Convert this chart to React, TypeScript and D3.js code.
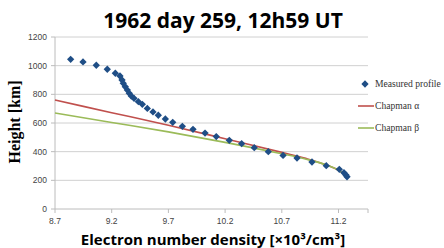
import * as d3 from "d3";

// measured profile: density [x10^3/cm^3], height [km]
const measDensity = [8.838, 8.947, 9.064, 9.161, 9.232, 9.273, 9.291, 9.302, 9.32, 9.338, 9.355, 9.373, 9.397, 9.435, 9.47, 9.514, 9.564, 9.611, 9.673, 9.738, 9.823, 9.917, 10.023, 10.122, 10.237, 10.346, 10.457, 10.581, 10.711, 10.834, 10.966, 11.092, 11.207, 11.248, 11.266, 11.275];
const measHeight = [1044, 1026, 1003, 975, 947, 928, 900, 877, 853, 830, 807, 788, 772, 749, 730, 702, 677, 654, 628, 605, 577, 556, 530, 505, 479, 456, 428, 400, 374, 356, 328, 302, 277, 253, 237, 225];

// fitted curves
const alphaDensity = [8.7, 9.2, 9.7, 10.2, 10.7, 10.9, 11.1, 11.2, 11.28];
const alphaHeight = [760, 672, 584, 490, 395, 355, 305, 270, 222];
const betaDensity = [8.7, 9.2, 9.7, 10.2, 10.7, 10.9, 11.1, 11.2, 11.28];
const betaHeight = [670, 604, 538, 465, 385, 350, 305, 270, 222];

const xTicks = [8.7, 9.2, 9.7, 10.2, 10.7, 11.2];
const yTicks = [0, 200, 400, 600, 800, 1000, 1200];

const W = 444;
const H = 248;
const plot = { left: 55, right: 368, top: 37, bottom: 209 };

export default function App() {
  const x = d3.scaleLinear().domain([8.7, 11.46]).range([plot.left, plot.right]);
  const y = d3.scaleLinear().domain([0, 1200]).range([plot.bottom, plot.top]);

  const line = d3
    .line<[number, number]>()
    .x((d) => x(d[0]))
    .y((d) => y(d[1]))
    .curve(d3.curveMonotoneX);

  const alpha = alphaDensity.map((d, i) => [d, alphaHeight[i]] as [number, number]);
  const beta = betaDensity.map((d, i) => [d, betaHeight[i]] as [number, number]);
  const diamond = d3.symbol().type(d3.symbolDiamond2).size(34)();

  const tickFont = "'Liberation Sans', Arial, sans-serif";
  const serif = "'Liberation Serif', serif";

  return (
    <svg
      width={W}
      height={H}
      style={{ position: "absolute", left: 0, top: 0, background: "#fff" }}
    >
      <text
        x={223}
        y={28}
        textAnchor="middle"
        fontFamily="'Open Sans', sans-serif"
        fontWeight="bold"
        fontSize={21}
        fill="#000"
      >
        1962 day 259, 12h59 UT
      </text>

      {yTicks.map((t) => (
        <g key={t}>
          {t > 0 && (
            <line x1={plot.left} x2={plot.right} y1={y(t)} y2={y(t)} stroke="#d0d0d0" strokeWidth={1} />
          )}
          <line x1={plot.left - 4} x2={plot.left} y1={y(t)} y2={y(t)} stroke="#bcbcbc" />
          <text
            x={plot.left - 8}
            y={y(t) + 3}
            textAnchor="end"
            fontFamily={tickFont}
            fontSize={8.5}
            fill="#444"
          >
            {t}
          </text>
        </g>
      ))}

      <line x1={plot.left} x2={plot.left} y1={plot.top} y2={plot.bottom} stroke="#bcbcbc" />
      <line x1={plot.left} x2={plot.right} y1={plot.bottom} y2={plot.bottom} stroke="#bcbcbc" />

      {xTicks.map((t) => (
        <g key={t}>
          <line x1={x(t)} x2={x(t)} y1={plot.bottom} y2={plot.bottom + 4} stroke="#bcbcbc" />
          <text
            x={x(t)}
            y={plot.bottom + 15}
            textAnchor="middle"
            fontFamily={tickFont}
            fontSize={8.5}
            fill="#444"
          >
            {t.toFixed(1)}
          </text>
        </g>
      ))}
      <line x1={plot.right} x2={plot.right} y1={plot.bottom} y2={plot.bottom + 4} stroke="#bcbcbc" />

      <path d={line(alpha) ?? ""} fill="none" stroke="#c0504d" strokeWidth={1.6} />
      <path d={line(beta) ?? ""} fill="none" stroke="#9bbb59" strokeWidth={1.6} />

      {measDensity.map((d, i) => (
        <path
          key={i}
          d={diamond ?? ""}
          transform={`translate(${x(d)},${y(measHeight[i])})`}
          fill="#1f4e86"
        />
      ))}

      <g fontFamily={serif} fontSize={9.6} fill="#333">
        <path d={diamond ?? ""} transform="translate(365,84)" fill="#1f4e86" />
        <text x={375} y={87}>Measured profile</text>
        <line x1={358} x2={374} y1={106} y2={106} stroke="#c0504d" strokeWidth={1.6} />
        <text x={375} y={109}>Chapman α</text>
        <line x1={358} x2={374} y1={128} y2={128} stroke="#9bbb59" strokeWidth={1.6} />
        <text x={375} y={131}>Chapman β</text>
      </g>

      <text
        x={213}
        y={245}
        textAnchor="middle"
        fontFamily="'Open Sans', sans-serif"
        fontWeight="bold"
        fontSize={15}
        fill="#000"
      >
        Electron number density [×10³/cm³]
      </text>

      <text
        transform="translate(20,122) rotate(-90)"
        textAnchor="middle"
        fontFamily={serif}
        fontWeight="bold"
        fontSize={16}
        fill="#000"
      >
        Height [km]
      </text>
    </svg>
  );
}
